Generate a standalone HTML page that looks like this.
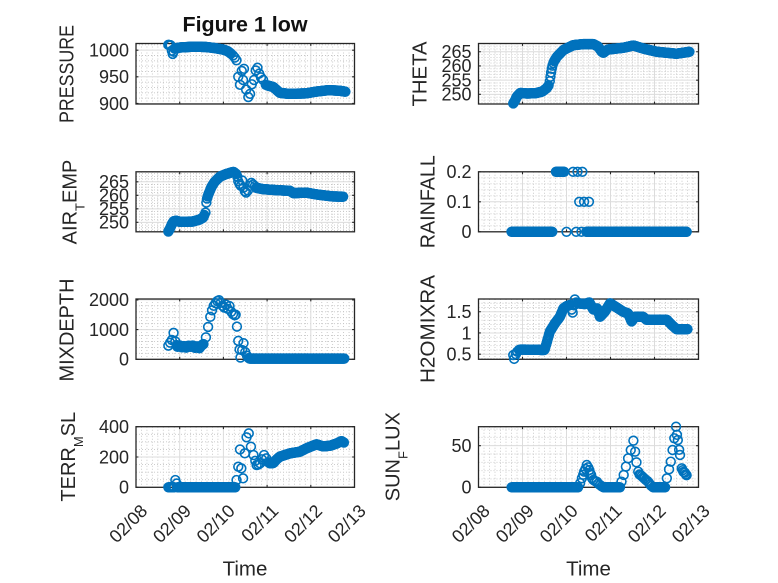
<!DOCTYPE html>
<html>
<head>
<meta charset="utf-8">
<style>
html,body{margin:0;padding:0;background:#fff;}
svg{display:block;}
text{font-family:"Liberation Sans",Arial,sans-serif;fill:#262626;}
.tk{font-size:18px;}
.yl{font-size:20px;}
</style>
</head>
<body>
<svg id="c" xmlns="http://www.w3.org/2000/svg" width="778" height="583" viewBox="0 0 778 583">
<rect x="0" y="0" width="778" height="583" fill="#fff"/>
<g id="grid"></g>
<g id="data"></g>

<!-- Title -->
<text x="245" y="31.7" text-anchor="middle" style="font-size:21px;font-weight:bold;fill:#111" textLength="125" lengthAdjust="spacingAndGlyphs">Figure 1 low</text>

<g class="tk" text-anchor="end">
<text x="129" y="109.8">900</text>
<text x="129" y="83.1">950</text>
<text x="129" y="56.5">1000</text>
<text x="471.5" y="100.6">250</text>
<text x="471.5" y="86.4">255</text>
<text x="471.5" y="72.2">260</text>
<text x="471.5" y="58.0">265</text>
<text x="129" y="228.6">250</text>
<text x="129" y="215.1">255</text>
<text x="129" y="201.6">260</text>
<text x="129" y="188.1">265</text>
<text x="471.5" y="238.1">0</text>
<text x="471.5" y="208.1">0.1</text>
<text x="471.5" y="178.1">0.2</text>
<text x="129" y="365.6">0</text>
<text x="129" y="335.9">1000</text>
<text x="129" y="306.2">2000</text>
<text x="471.5" y="360.5">0.5</text>
<text x="471.5" y="339.3">1</text>
<text x="471.5" y="318.0">1.5</text>
<text x="129" y="493.6">0</text>
<text x="129" y="463.3">200</text>
<text x="129" y="433.0">400</text>
<text x="471.5" y="493.6">0</text>
<text x="471.5" y="452.0">50</text>
</g>

<g class="tk" text-anchor="end">
<text x="148.5" y="512" transform="rotate(-45 148.5 512)">02/08</text>
<text x="192.2" y="512" transform="rotate(-45 192.2 512)">02/09</text>
<text x="235.9" y="512" transform="rotate(-45 235.9 512)">02/10</text>
<text x="279.6" y="512" transform="rotate(-45 279.6 512)">02/11</text>
<text x="323.3" y="512" transform="rotate(-45 323.3 512)">02/12</text>
<text x="367" y="512" transform="rotate(-45 367 512)">02/13</text>
<text x="491" y="512" transform="rotate(-45 491 512)">02/08</text>
<text x="535" y="512" transform="rotate(-45 535 512)">02/09</text>
<text x="579" y="512" transform="rotate(-45 579 512)">02/10</text>
<text x="623" y="512" transform="rotate(-45 623 512)">02/11</text>
<text x="667" y="512" transform="rotate(-45 667 512)">02/12</text>
<text x="711" y="512" transform="rotate(-45 711 512)">02/13</text>
</g>

<text x="245" y="575.5" text-anchor="middle" style="font-size:20.5px">Time</text>
<text x="588.5" y="575.5" text-anchor="middle" style="font-size:20.5px">Time</text>

<g class="yl" text-anchor="middle">
<text transform="translate(73.3 74) rotate(-90)" textLength="98" lengthAdjust="spacingAndGlyphs">PRESSURE</text>
<text transform="translate(426.7 74) rotate(-90)" textLength="65" lengthAdjust="spacingAndGlyphs">THETA</text>
<text transform="translate(76.7 202) rotate(-90)">AIR<tspan style="font-size:13px" dy="8">T</tspan><tspan dy="-8">EMP</tspan></text>
<text transform="translate(434.3 201.7) rotate(-90)" textLength="93" lengthAdjust="spacingAndGlyphs">RAINFALL</text>
<text transform="translate(73.3 330) rotate(-90)" textLength="103" lengthAdjust="spacingAndGlyphs">MIXDEPTH</text>
<text transform="translate(434.3 329) rotate(-90)" textLength="108" lengthAdjust="spacingAndGlyphs">H2OMIXRA</text>
<text transform="translate(75 456.7) rotate(-90)">TERR<tspan style="font-size:13px" dy="8">M</tspan><tspan dy="-8">SL</tspan></text>
<text transform="translate(399.5 456.7) rotate(-90)">SUN<tspan style="font-size:13px" dy="8">F</tspan><tspan dy="-8">LUX</tspan></text>
</g>
</svg>

<script>
(function(){
var NS='http://www.w3.org/2000/svg';
var gGrid=document.getElementById('grid');
var gData=document.getElementById('data');
function el(tag,attrs,parent){var e=document.createElementNS(NS,tag);for(var k in attrs)e.setAttribute(k,attrs[k]);parent.appendChild(e);return e;}

var P=[
 ['s',[[0.74,1010],[0.80,1009]]],
 ['p',[[0.82,999],[0.84,993],[0.86,997]]],
 ['s',[[0.88,1003],[1.0,1005],[1.3,1006.5],[1.6,1006],[1.8,1004],[2.0,1001],[2.1,998],[2.18,993]]],
 ['p',[[2.22,990],[2.26,986],[2.30,981],[2.34,950],[2.38,935],[2.42,961],[2.45,944],[2.47,965],[2.52,926],[2.57,912],[2.61,918],[2.65,936],[2.70,944],[2.74,962],[2.78,967],[2.82,956],[2.86,949],[2.91,944],[2.97,935]]],
 ['s',[[3.0,934],[3.14,931],[3.29,920],[3.5,918],[3.9,919],[4.1,922],[4.4,925],[4.65,924],[4.8,922]]]
];
var T=[
 ['s',[[0.79,246.8],[0.83,247.8],[0.87,249.2],[0.95,250.5],[1.1,250.3],[1.3,250.4],[1.45,251],[1.55,252.2],[1.6,253.3]]],
 ['p',[[1.62,254.6],[1.635,256.2],[1.65,257.7],[1.665,259.0],[1.68,260.1],[1.70,261.0]]],
 ['s',[[1.72,261.7],[1.78,263.2],[1.93,265.6],[2.15,267.3],[2.38,267.7],[2.61,267.7],[2.72,266.8],[2.8,265],[2.84,264.6],[2.9,265.4],[2.95,265.8],[3.29,266.4],[3.52,267.2],[3.75,266.1],[4.05,265],[4.5,264.3],[4.8,265]]]
];
var A=[
 ['s',[[0.74,246.6],[0.78,247.8],[0.82,249.3],[0.86,250.4],[0.92,250.6],[1.0,250.2],[1.3,250.3],[1.45,251],[1.54,251.8],[1.57,253]]],
 ['p',[[1.59,253.6],[1.61,257.3],[1.625,258.8]]],
 ['s',[[1.64,259.6],[1.66,260.5],[1.73,263.2],[1.8,265],[1.92,266.9],[2.05,267.8],[2.23,268.7],[2.3,267.8]]],
 ['p',[[2.32,266.9],[2.34,265.2],[2.37,264.2],[2.40,263.5],[2.43,265.5],[2.46,262.8],[2.49,261.5],[2.52,261],[2.56,261.8],[2.6,263.5],[2.64,264.6],[2.68,264],[2.72,263.4]]],
 ['s',[[2.75,262.8],[2.9,262.3],[3.14,262],[3.35,261.8],[3.52,261.7],[3.6,260.8],[3.9,261],[4.1,260.4],[4.29,260],[4.5,259.6],[4.74,259.5]]]
];
var R=[
 ['s',[[0.75,0],[1.68,0]]],
 ['s',[[1.76,0.2],[1.95,0.2]]],
 ['p',[[2.15,0.2],[2.25,0.2],[2.36,0.2],[2.0,0],[2.22,0],[2.34,0],[2.29,0.1],[2.40,0.1],[2.51,0.1]]],
 ['s',[[2.45,0],[4.74,0]]]
];
var M=[
 ['p',[[0.74,460],[0.78,560],[0.82,650],[0.86,890],[0.9,600],[0.93,480]]],
 ['s',[[0.95,420],[1.0,470],[1.05,400],[1.1,450],[1.15,390],[1.2,460],[1.25,420],[1.3,470],[1.35,380],[1.4,440],[1.45,370],[1.5,470],[1.55,520]]],
 ['p',[[1.6,740],[1.65,1090],[1.7,1430],[1.74,1650],[1.78,1800],[1.82,1890],[1.86,1960],[1.9,1990],[1.94,1900],[1.98,1800],[2.02,1740],[2.06,1840],[2.1,1700],[2.14,1790],[2.18,1600],[2.22,1520],[2.26,1480],[2.28,1500],[2.31,1100],[2.34,620],[2.37,330],[2.39,60],[2.43,310],[2.46,540],[2.5,240],[2.54,120],[2.58,40]]],
 ['s',[[2.6,25],[4.77,25]]]
];
var H=[
 ['p',[[0.79,0.48],[0.81,0.39],[0.85,0.5],[0.88,0.56],[0.92,0.6]]],
 ['s',[[0.95,0.61],[1.5,0.6],[1.55,0.77],[1.62,1.03],[1.74,1.23],[1.85,1.38],[1.93,1.58],[2.0,1.63],[2.08,1.66]]],
 ['p',[[2.12,1.55],[2.14,1.48],[2.17,1.65],[2.19,1.79],[2.22,1.72]]],
 ['s',[[2.25,1.7],[2.42,1.68],[2.52,1.72],[2.61,1.55],[2.70,1.58],[2.76,1.38],[2.87,1.5],[2.99,1.7],[3.14,1.6],[3.29,1.5],[3.4,1.46],[3.48,1.27],[3.55,1.38],[3.74,1.38],[3.82,1.31],[4.28,1.31],[4.39,1.19],[4.5,1.09],[4.75,1.09]]]
];
var E=[
 ['s',[[0.74,0],[0.88,0]]],
 ['p',[[0.9,48],[0.93,25]]],
 ['s',[[0.95,0],[2.28,0]]],
 ['p',[[2.3,48],[2.34,136],[2.38,250],[2.41,125],[2.45,59],[2.49,224],[2.53,330],[2.58,356],[2.63,268],[2.69,213],[2.73,175],[2.76,147],[2.8,150],[2.84,158],[2.88,185],[2.93,213],[2.98,191],[3.03,165]]],
 ['s',[[3.06,158],[3.14,160],[3.22,185],[3.29,202],[3.52,224],[3.75,235],[3.9,257],[4.13,284],[4.28,270],[4.45,275],[4.6,290],[4.7,305],[4.76,295]]]
];
var S=[
 ['s',[[0.753,0],[2.27,0]]],
 ['p',[[2.31,5],[2.35,10.8],[2.38,15],[2.4,18.8],[2.43,22],[2.46,26.8],[2.49,24],[2.52,20.8],[2.54,17],[2.56,14.8],[2.58,11],[2.61,8.8],[2.65,7.5],[2.69,6.8],[2.72,4.5],[2.76,2.8],[2.8,1.2]]],
 ['s',[[2.84,0],[3.22,0]]],
 ['p',[[3.25,6.8],[3.3,14.8],[3.35,24.8],[3.4,34.8],[3.46,44.8],[3.52,56],[3.56,42.8],[3.59,30],[3.63,18.8],[3.66,15.5],[3.68,14.8],[3.71,13.5],[3.74,12],[3.77,10.5],[3.8,9],[3.84,7.5],[3.87,5.6],[3.9,3.5],[3.93,1.6]]],
 ['s',[[3.97,0],[4.25,0]]],
 ['p',[[4.28,10.8],[4.33,21.6],[4.37,30.8],[4.41,44.8],[4.45,58.9],[4.49,72.8],[4.51,63],[4.53,56.8],[4.56,45],[4.58,38.8],[4.62,22.8],[4.64,20.5],[4.66,18.4],[4.69,17.6],[4.71,15.6],[4.73,14.5]]]
];

var AX=[
 {x0:136,w:218.5,y0:43.5,h:60.5,ymin:899,ymax:1012.5,yt:[900,950,1000],ym:10,d:P},
 {x0:478.5,w:220,y0:43.5,h:60.5,ymin:246.6,ymax:267.9,yt:[250,255,260,265],ym:1,d:T},
 {x0:136,w:218.5,y0:171.8,h:60,ymin:246.5,ymax:268.7,yt:[250,255,260,265],ym:1,d:A},
 {x0:478.5,w:220,y0:171.8,h:60,ymin:0,ymax:0.2,yt:[0,0.1,0.2],ym:0.02,d:R},
 {x0:136,w:218.5,y0:299,h:60.3,ymin:0,ymax:2030,yt:[0,1000,2000],ym:200,d:M},
 {x0:478.5,w:220,y0:299,h:60.3,ymin:0.38,ymax:1.8,yt:[0.5,1,1.5],ym:0.1,d:H},
 {x0:136,w:218.5,y0:426.7,h:60.6,ymin:0,ymax:400,yt:[0,200,400],ym:50,d:E},
 {x0:478.5,w:220,y0:426.7,h:60.6,ymin:0,ymax:72.8,yt:[0,50],ym:10,d:S}
];

var dt=1/96;
AX.forEach(function(a){
 function X(t){return a.x0+t/5*a.w;}
 function Y(v){return a.y0+(a.ymax-v)/(a.ymax-a.ymin)*a.h;}
 var x1=a.x0+a.w, y1=a.y0+a.h;
 var mp='';
 for(var k=1;k<40;k++){ if(k%8===0)continue; var x=a.x0+k/40*a.w; mp+='M'+x.toFixed(2)+' '+a.y0+'V'+y1; }
 var start=Math.ceil(a.ymin/a.ym-1e-6);
 for(var j=start;j*a.ym<=a.ymax+1e-9;j++){
   var v=j*a.ym; var isMaj=false;
   a.yt.forEach(function(m){ if(Math.abs(m-v)<a.ym*0.01) isMaj=true; });
   if(isMaj)continue;
   var y=Y(v); if(y<=a.y0+0.3||y>=y1-0.3)continue;
   mp+='M'+a.x0+' '+y.toFixed(2)+'H'+x1;
 }
 el('path',{d:mp,stroke:'#c6c6c6','stroke-width':'0.9','stroke-dasharray':'1 2',fill:'none'},gGrid);
 var gp='';
 for(var k2=1;k2<5;k2++){var xx=a.x0+k2/5*a.w; gp+='M'+xx.toFixed(2)+' '+a.y0+'V'+y1;}
 a.yt.forEach(function(m){var y=Y(m); if(y>a.y0+0.5&&y<y1-0.5) gp+='M'+a.x0+' '+y.toFixed(2)+'H'+x1;});
 el('path',{d:gp,stroke:'#dcdcdc','stroke-width':'1',fill:'none'},gGrid);
 el('rect',{x:a.x0,y:a.y0,width:a.w,height:a.h,fill:'none',stroke:'#262626','stroke-width':'1.3'},gGrid);
 var tp='', tl=2.4;
 for(var k3=1;k3<5;k3++){var xt=a.x0+k3/5*a.w; tp+='M'+xt.toFixed(2)+' '+y1+'v-'+tl+'M'+xt.toFixed(2)+' '+a.y0+'v'+tl;}
 a.yt.forEach(function(m){var y=Y(m); tp+='M'+a.x0+' '+y.toFixed(2)+'h'+tl+'M'+x1+' '+y.toFixed(2)+'h-'+tl;});
 el('path',{d:tp,stroke:'#262626','stroke-width':'1.1',fill:'none'},gGrid);
 var pts=[];
 a.d.forEach(function(piece){
   var kf=piece[1];
   if(piece[0]==='p'){ kf.forEach(function(p){pts.push(p);}); }
   else{
     var t0=kf[0][0], tE=kf[kf.length-1][0];
     for(var t=t0;t<=tE+1e-9;t+=dt){
       var i=0; while(i<kf.length-2 && kf[i+1][0]<t) i++;
       var a0=kf[i], b0=kf[i+1]||kf[i];
       var v=(b0[0]===a0[0])?a0[1]:a0[1]+(b0[1]-a0[1])*(t-a0[0])/(b0[0]-a0[0]);
       pts.push([t,v]);
     }
   }
 });
 var g=el('g',{fill:'none',stroke:'#0072BD','stroke-width':'1.6'},gData);
 pts.forEach(function(p){ el('circle',{cx:X(p[0]).toFixed(2),cy:Y(p[1]).toFixed(2),r:'4.4'},g); });
});
})();
</script>
</body>
</html>
